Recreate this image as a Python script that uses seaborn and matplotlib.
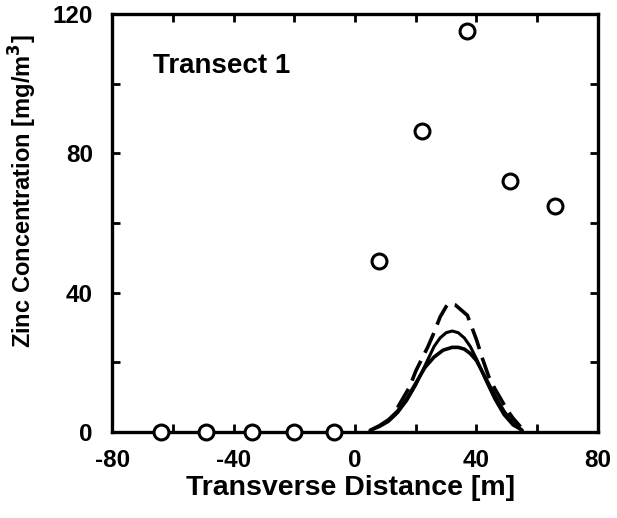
import matplotlib
matplotlib.use("Agg")
import matplotlib.pyplot as plt
import seaborn as sns
import numpy as np

# Observed data (open circles)
obs_x = [-64, -49, -34, -20, -7, 8, 22, 37, 51, 66]
obs_y = [0, 0, 0, 0, 0, 49, 86.5, 115, 72, 65]

# Model curve 1 (dashed, highest peak)
dash_x = [14, 16, 18, 20, 22, 24, 26, 28, 30, 31, 33, 35, 37, 40, 42, 44, 46, 48, 50, 52, 54.5]
dash_y = [7, 10, 13, 17.5, 21, 24.5, 28.5, 33, 36, 37, 36.5, 35, 33.5, 26.5, 21, 16, 12.5, 9.5, 6.5, 4, 1.5]

# Model curve 2 (solid, middle peak)
sol1_x = [5, 8, 11, 14, 17, 20, 23, 26, 28, 30, 32, 34, 36, 38, 40, 43, 46, 49, 52, 55]
sol1_y = [0.5, 1.5, 3, 5.5, 9, 13.5, 19, 24.5, 27, 28.5, 29, 28.5, 27, 24.5, 21, 15, 9.5, 5, 2, 0.5]

# Model curve 3 (solid, lowest peak)
sol2_x = [5, 8, 11, 14, 17, 20, 23, 26, 29, 32, 34, 36, 38, 40, 43, 46, 49, 52, 55]
sol2_y = [0.5, 1.8, 3.5, 6, 9.5, 14, 18.5, 21.5, 23.5, 24.3, 24.3, 23.8, 22.5, 20.5, 15.5, 10.5, 6, 2.5, 0.5]

xtick_vals = [-80, -40, 0, 40, 80]
ytick_vals = [0, 40, 80, 120]

sns.set_style("ticks")
plt.rcParams['font.family'] = ['Liberation Sans', 'DejaVu Sans']
plt.rcParams['axes.unicode_minus'] = False
plt.rcParams['text.color'] = 'black'
plt.rcParams['axes.labelcolor'] = 'black'
plt.rcParams['xtick.color'] = 'black'
plt.rcParams['ytick.color'] = 'black'

fig, ax = plt.subplots(figsize=(6.17, 5.18), dpi=100)
fig.subplots_adjust(left=0.182, right=0.969, bottom=0.166, top=0.973)

sns.lineplot(x=dash_x, y=dash_y, ax=ax, color='black', lw=2.6, linestyle=(0, (6, 2.5)))
sns.lineplot(x=sol1_x, y=sol1_y, ax=ax, color='black', lw=2.2)
sns.lineplot(x=sol2_x, y=sol2_y, ax=ax, color='black', lw=2.6)
sns.scatterplot(x=obs_x, y=obs_y, ax=ax, s=115, facecolor='white', edgecolor='black',
                linewidth=2.2, zorder=5, clip_on=False)

ax.set_xlim(-80, 80)
ax.set_ylim(0, 120)
ax.set_xticks(xtick_vals)
ax.set_xticklabels([str(v) for v in xtick_vals], fontsize=17.5, fontweight='bold')
ax.set_xticks(np.arange(-80, 81, 20), minor=True)
ax.set_yticks(ytick_vals)
ax.set_yticklabels([str(v) for v in ytick_vals], fontsize=17.5, fontweight='bold')
ax.set_yticks(np.arange(0, 121, 20), minor=True)
ax.tick_params(which='both', direction='in', top=True, right=True, width=2, length=6, color='black')
ax.tick_params(axis='x', which='major', pad=12)
ax.tick_params(axis='y', which='major', pad=14)
for sp in ax.spines.values():
    sp.set_linewidth(2.4)
    sp.set_color('black')

ax.set_xlabel('Transverse Distance [m]', fontsize=20.5, fontweight='bold')
ax.set_ylabel('Zinc Concentration [mg/m$^\\mathbf{3}$]', fontsize=17, fontweight='bold')
ax.xaxis.set_label_coords(0.49, -0.103)
ax.yaxis.set_label_coords(-0.15, 0.577)
ax.text(0.084, 0.859, 'Transect 1', transform=ax.transAxes, fontsize=20, fontweight='bold',
        va='baseline', color='black')

fig.savefig('out.png', dpi=100)
